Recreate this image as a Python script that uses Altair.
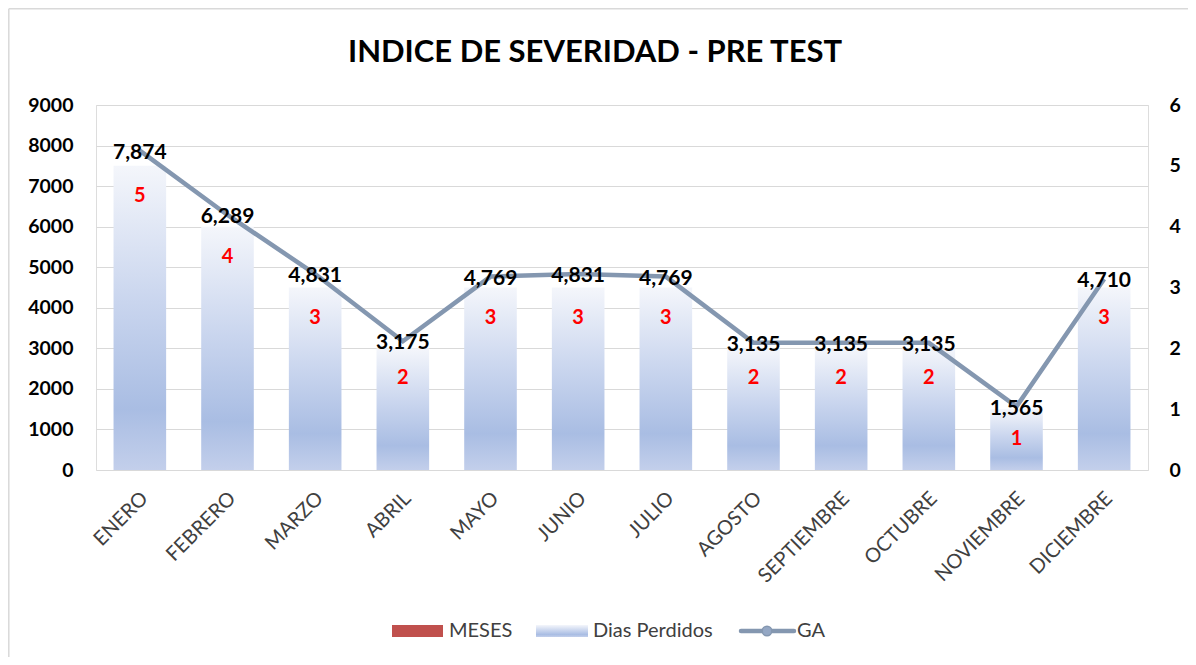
import altair as alt
import pandas as pd

meses = ["ENERO", "FEBRERO", "MARZO", "ABRIL", "MAYO", "JUNIO", "JULIO",
         "AGOSTO", "SEPTIEMBRE", "OCTUBRE", "NOVIEMBRE", "DICIEMBRE"]
dias_perdidos = [5, 4, 3, 2, 3, 3, 3, 2, 2, 2, 1, 3]
ga = [7874, 6289, 4831, 3175, 4769, 4831, 4769, 3135, 3135, 3135, 1565, 4710]

left_ticks = [0, 1000, 2000, 3000, 4000, 5000, 6000, 7000, 8000, 9000]
right_ticks = [0, 1, 2, 3, 4, 5, 6]

legend_labels = ["MESES", "Dias Perdidos", "GA"]

df = pd.DataFrame({"mes": meses, "dias": dias_perdidos, "ga": ga})
df["ga_label"] = [f"{v:,}" for v in ga]

FONT = "Lato"
W, H = 1052, 365
LINE_COLOR = "#8497b0"

grad = alt.Gradient(
    gradient="linear",
    stops=[
        alt.GradientStop(color="#f4f6fb", offset=0),
        alt.GradientStop(color="#c9d5ee", offset=0.45),
        alt.GradientStop(color="#a9bde3", offset=0.8),
        alt.GradientStop(color="#c3cfeb", offset=1),
    ],
    x1=0, x2=0, y1=0, y2=1,
)

x_enc = alt.X(
    "mes:N", sort=meses, title=None,
    scale=alt.Scale(paddingInner=0.4, paddingOuter=0.2),
    axis=alt.Axis(labelAngle=-45, labelAlign="right", labelBaseline="middle",
                  labelPadding=25, labelOffset=5, ticks=False, domain=False,
                  labelFont=FONT, labelFontSize=20, labelColor="#404040",
                  grid=False),
)

y_right = alt.Y(
    "dias:Q", title=None,
    scale=alt.Scale(domain=[0, 6], nice=False),
    axis=alt.Axis(orient="right", values=right_ticks, grid=False, ticks=False,
                  domain=False, labelPadding=21, labelFont=FONT, format="d",
                  labelFontSize=19.5, labelFontWeight="bold", labelColor="#000000"),
)

bars = alt.Chart(df).mark_bar(color=grad).encode(x=x_enc, y=y_right)
bar_labels = alt.Chart(df).mark_text(
    color="#ff0000", font=FONT, fontSize=20, fontWeight="bold",
    baseline="middle", dy=30,
).encode(x=alt.X("mes:N", sort=meses), y=alt.Y("dias:Q"), text="dias:Q")

y_left = alt.Y(
    "ga:Q", title=None,
    scale=alt.Scale(domain=[0, 9000], nice=False),
    axis=alt.Axis(orient="left", values=left_ticks, grid=True,
                  gridColor="#d9d9d9", gridWidth=1.2, ticks=False, domain=False,
                  labelPadding=23, labelFont=FONT, labelFontSize=19.5,
                  labelFontWeight="bold", labelColor="#000000", format="d"),
)

line = alt.Chart(df).mark_line(color=LINE_COLOR, strokeWidth=4.5).encode(
    x=alt.X("mes:N", sort=meses), y=y_left)
line_labels = alt.Chart(df).mark_text(
    color="#000000", font=FONT, fontSize=21, fontWeight="bold",
    baseline="middle", dy=2,
).encode(x=alt.X("mes:N", sort=meses), y=alt.Y("ga:Q"), text="ga_label:N")

one = pd.DataFrame({"k": [0]})

frame_left = alt.Chart(one).mark_rule(color="#d9d9d9", strokeWidth=1.5).encode(
    x=alt.value(-87.2), y=alt.value(-96.2), y2=alt.value(700))
frame_top = alt.Chart(one).mark_rule(color="#d9d9d9", strokeWidth=1.5).encode(
    x=alt.value(-87.2), x2=alt.value(1200), y=alt.value(-96.2))

title = alt.Chart(one).mark_text(
    text="INDICE DE SEVERIDAD - PRE TEST", font=FONT, fontSize=31,
    fontWeight="bold", color="#000000", align="center", baseline="alphabetic",
).encode(x=alt.value(499), y=alt.value(-43))

# legend
leg_y = 526
sw_meses = alt.Chart(one).mark_rect(color="#c0504d").encode(
    x=alt.value(296), x2=alt.value(347), y=alt.value(leg_y - 6), y2=alt.value(leg_y + 6))
sw_dias = alt.Chart(one).mark_rect(color=grad).encode(
    x=alt.value(440), x2=alt.value(492), y=alt.value(leg_y - 6), y2=alt.value(leg_y + 6))
sw_ga = alt.Chart(one).mark_rule(color=LINE_COLOR, strokeWidth=4.5,
                                 strokeCap="round").encode(
    x=alt.value(645), x2=alt.value(698), y=alt.value(leg_y))
pt_ga = alt.Chart(one).mark_point(filled=True, fill="#94a7c4", stroke=LINE_COLOR,
                                  strokeWidth=1.5, size=90, opacity=1).encode(
    x=alt.value(671), y=alt.value(leg_y))

def leg_text(label, x):
    return alt.Chart(one).mark_text(
        text=label, font=FONT, fontSize=20, color="#404040",
        align="left", baseline="middle",
    ).encode(x=alt.value(x), y=alt.value(leg_y))

legend = alt.layer(sw_meses, sw_dias, sw_ga, pt_ga,
                   leg_text(legend_labels[0], 353),
                   leg_text(legend_labels[1], 497),
                   leg_text(legend_labels[2], 701))

chart = alt.layer(
    frame_left, frame_top,
    alt.layer(bars, bar_labels),
    alt.layer(line, line_labels),
    title,
    legend,
).resolve_scale(y="independent").properties(
    width=W, height=H,
    autosize=alt.AutoSizeParams(type="none"),
    padding={"left": 88, "top": 97, "right": 40, "bottom": 187},
).configure_view(stroke=None).configure(background="#ffffff")

chart.save("out.html", embed_options={"renderer": "svg", "actions": False})
